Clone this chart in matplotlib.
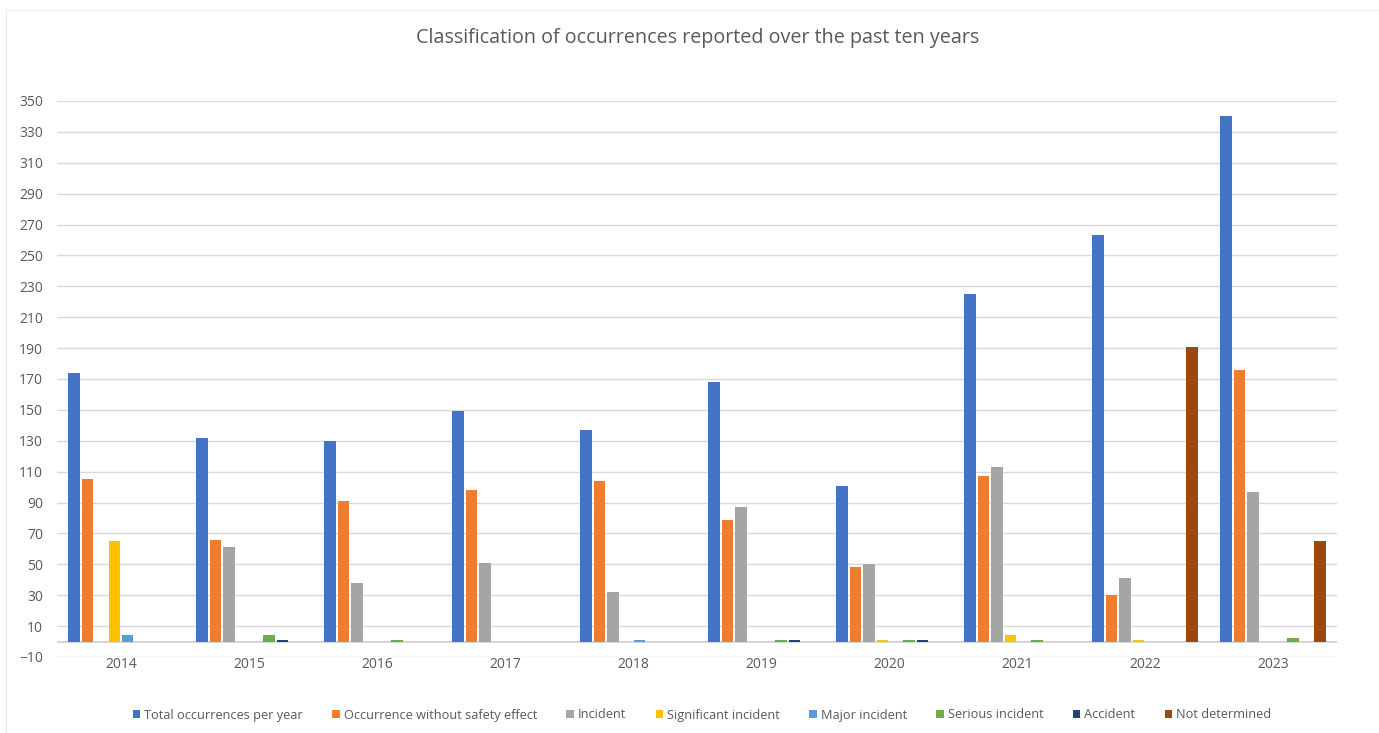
import matplotlib

matplotlib.use("Agg")
import matplotlib.pyplot as plt
import numpy as np
from matplotlib.lines import Line2D

years = ["2014", "2015", "2016", "2017", "2018", "2019", "2020", "2021", "2022", "2023"]
series_names = [
    "Total occurrences per year",
    "Occurrence without safety effect",
    "Incident",
    "Significant incident",
    "Major incident",
    "Serious incident",
    "Accident",
    "Not determined",
]
total = [174, 132, 130, 149, 137, 168, 101, 225, 263, 340]
no_effect = [105, 66, 91, 98, 104, 79, 48, 107, 30, 176]
incident = [0, 61, 38, 51, 32, 87, 50, 113, 41, 97]
significant = [65, 0, 0, 0, 0, 0, 1, 4, 1, 0]
major = [4, 0, 0, 0, 1, 0, 0, 0, 0, 0]
serious = [0, 4, 1, 0, 0, 1, 1, 1, 0, 2]
accident = [0, 1, 0, 0, 0, 1, 1, 0, 0, 0]
not_determined = [0, 0, 0, 0, 0, 0, 0, 0, 191, 65]
yticks = list(range(-10, 351, 20))

colors = ["#4472C4", "#ED7D31", "#A5A5A5", "#FFC000", "#5B9BD5", "#70AD47", "#264478", "#9E480E"]
values = [total, no_effect, incident, significant, major, serious, accident, not_determined]

plt.rcParams["font.family"] = ["Open Sans", "DejaVu Sans"]
text_col = "#595959"

fig = plt.figure(figsize=(13.79, 7.33), dpi=100)
ax = fig.add_axes([57 / 1379, 1 - 657 / 733, 1280 / 1379, 556 / 733])

# faint chart-area frame (top and left edge)
fig.add_artist(Line2D([6 / 1379, 6 / 1379], [0, 1 - 10 / 733], transform=fig.transFigure,
                      color="#E6ECF5", lw=1))
fig.add_artist(Line2D([6 / 1379, 1], [1 - 10 / 733, 1 - 10 / 733], transform=fig.transFigure,
                      color="#F2F2F2", lw=1))

x = np.arange(len(years))
step = 0.105
width = step * 0.86
for i, (name, vals, c) in enumerate(zip(series_names, values, colors)):
    ax.bar(x + (i - 3.5) * step, vals, width=width, color=c, label=name, zorder=3)

ax.set_xlim(-0.5, len(years) - 0.5)
ax.set_ylim(-10, 350)
ax.set_yticks(yticks)
ax.set_xticks(x)
ax.set_xticklabels(years)
ax.grid(axis="y", color="#D9D9D9", lw=1, zorder=0)
ax.axhline(0, color="#D0D0D0", lw=1.2, zorder=2)
for s in ax.spines.values():
    s.set_visible(False)
ax.tick_params(axis="y", length=0, pad=10, labelsize=10, colors=text_col)
ax.tick_params(axis="x", length=0, pad=0, labelsize=10, colors=text_col)

fig.text(0.506, 1 - 38 / 733, "Classification of occurrences reported over the past ten years",
         ha="center", va="center", fontsize=14.2, color=text_col)

fig.legend(loc="center", bbox_to_anchor=(0.509, 1 - 715 / 733), ncol=8, frameon=False,
           fontsize=9.2, handlelength=0.6, handleheight=0.6, handletextpad=0.3,
           columnspacing=2.3, labelcolor=text_col)

fig.savefig("out.png", dpi=100)
